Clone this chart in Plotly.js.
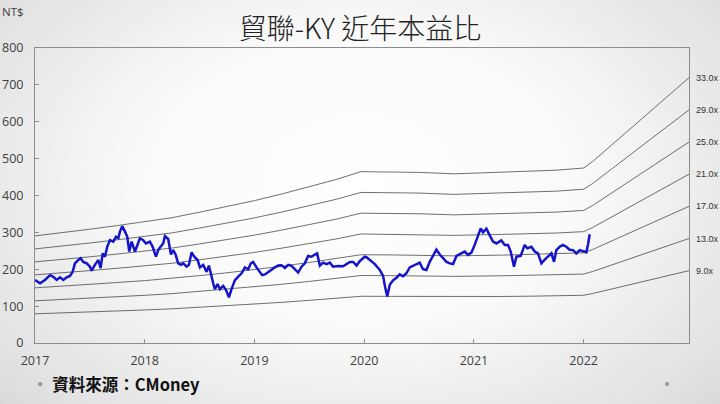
<!DOCTYPE html>
<html><head><meta charset="utf-8">
<script src="https://cdn.plot.ly/plotly-3.0.1.min.js"></script>
<style>
html,body{margin:0;padding:0;width:720px;height:404px;overflow:hidden;}
body{background:radial-gradient(ellipse 75% 90% at 50% 45%, #ffffff 0%, #fafafa 40%, #e2e2e2 80%, #d2d2d2 100%);}
#chart{width:720px;height:404px;}
</style></head>
<body><div id="chart"></div>
<script>
// Price (NT$) by decimal year
const priceYears = [2017.000,2017.046,2017.091,2017.137,2017.164,2017.198,2017.228,2017.258,2017.289,2017.319,2017.343,2017.364,2017.394,2017.416,2017.440,2017.471,2017.501,2017.516,2017.546,2017.577,2017.598,2017.617,2017.638,2017.658,2017.683,2017.713,2017.738,2017.759,2017.774,2017.795,2017.820,2017.841,2017.859,2017.881,2017.911,2017.932,2017.956,2017.986,2018.011,2018.047,2018.072,2018.102,2018.123,2018.144,2018.168,2018.184,2018.214,2018.239,2018.260,2018.281,2018.305,2018.330,2018.351,2018.382,2018.403,2018.427,2018.451,2018.482,2018.503,2018.533,2018.564,2018.585,2018.603,2018.624,2018.639,2018.664,2018.685,2018.715,2018.740,2018.767,2018.791,2018.821,2018.852,2018.883,2018.913,2018.943,2018.967,2018.988,2019.019,2019.049,2019.070,2019.095,2019.125,2019.156,2019.186,2019.216,2019.247,2019.277,2019.307,2019.338,2019.368,2019.398,2019.429,2019.459,2019.489,2019.520,2019.550,2019.571,2019.596,2019.626,2019.657,2019.687,2019.717,2019.762,2019.808,2019.839,2019.869,2019.899,2019.930,2019.960,2019.990,2020.005,2020.024,2020.051,2020.097,2020.142,2020.172,2020.192,2020.210,2020.233,2020.263,2020.294,2020.324,2020.354,2020.385,2020.415,2020.445,2020.476,2020.506,2020.536,2020.567,2020.597,2020.627,2020.658,2020.689,2020.716,2020.750,2020.780,2020.810,2020.841,2020.886,2020.916,2020.946,2020.977,2021.007,2021.037,2021.062,2021.083,2021.114,2021.144,2021.174,2021.205,2021.250,2021.281,2021.311,2021.335,2021.365,2021.387,2021.426,2021.463,2021.487,2021.524,2021.554,2021.584,2021.615,2021.645,2021.675,2021.706,2021.730,2021.751,2021.781,2021.811,2021.842,2021.872,2021.903,2021.933,2021.964,2021.994,2022.024,2022.040,2022.055];
const price = [171,162,171,184,180,171,178,171,178,182,193,216,225,230,220,216,207,196,212,225,203,243,234,261,279,275,288,284,302,317,302,288,248,275,248,266,284,279,270,275,261,234,252,261,270,290,282,240,252,240,216,212,216,207,212,246,234,225,205,212,193,210,184,162,146,160,146,155,144,124,146,170,180,189,205,200,216,220,205,194,184,186,193,198,205,210,211,203,212,209,200,191,207,216,236,234,240,243,210,218,214,218,207,209,208,214,220,220,210,222,230,234,232,226,214,198,182,150,126,158,170,177,186,181,189,205,210,214,218,200,198,220,238,253,240,230,220,216,214,236,243,248,239,245,266,290,311,300,310,292,275,270,278,266,266,248,207,234,236,266,257,261,248,243,216,226,234,243,220,252,261,266,261,253,252,243,252,248,246,268,295];

// Trailing EPS used for the P/E bands
const epsYears = [2017.0,2017.25,2017.5,2017.75,2018.0,2018.25,2018.5,2018.75,2019.0,2019.25,2019.5,2019.75,2019.97,2020.25,2020.5,2020.82,2021.25,2021.5,2021.75,2022.0,2022.08,2022.96];
const eps = [8.80,9.05,9.35,9.65,9.95,10.3,10.75,11.2,11.7,12.25,12.85,13.45,14.08,14.05,14.02,13.9,14.02,14.1,14.2,14.38,14.9,21.8];
const multiples = [9,13,17,21,25,29,33];
const yearTicks = [2017,2018,2019,2020,2021,2022];
const yTicks = [0,100,200,300,400,500,600,700,800];

const traces = [];
multiples.forEach(m => {
  traces.push({x: epsYears, y: eps.map(e => e*m), mode:'lines', type:'scatter',
    line:{color:'#4a4a4a', width:0.8}, hoverinfo:'skip', showlegend:false});
});
traces.push({x: priceYears, y: price, mode:'lines', type:'scatter',
  line:{color:'#1414c8', width:2.5}, showlegend:false});

const lastEps = eps[eps.length-1];
const annotations = multiples.map(m => ({
  xref:'paper', x:1, xanchor:'left', xshift:5, yref:'y', y: lastEps*m, yanchor:'middle',
  text: m.toFixed(1)+'x', showarrow:false, font:{family:'Liberation Sans, Arial', size:9, color:'#333'}
}));
annotations.push({xref:'paper', yref:'paper', x:-0.053, y:1.125, xanchor:'left', yanchor:'middle',
  text:'NT$', showarrow:false, font:{family:'Open Sans, Noto Sans', size:11.5, color:'#404040'}});
annotations.push({xref:'paper', yref:'paper', x:-0.008, y:-0.138, xanchor:'left', yanchor:'middle',
  text:'<span style="color:#999">•</span> 資料來源：CMoney', showarrow:false,
  font:{family:'Noto Sans CJK TC', size:16.5, color:'#111', weight:700}});
annotations.push({xref:'paper', yref:'paper', x:0.966, y:-0.138, xanchor:'center', yanchor:'middle',
  text:'•', showarrow:false, font:{family:'Noto Sans', size:16, color:'#999'}});

const layout = {
  width:720, height:404,
  margin:{l:35, r:31, t:48, b:61},
  paper_bgcolor:'rgba(0,0,0,0)', plot_bgcolor:'rgba(0,0,0,0)',
  title:{text:'貿聯-KY 近年本益比', x:0.5, xanchor:'center', y:0.928, yanchor:'middle',
    font:{family:'Noto Sans CJK TC', size:28, color:'#222', weight:300}},
  xaxis:{range:[2017, 2022.96], tickvals:yearTicks, ticktext:yearTicks.map(String),
    showgrid:false, zeroline:false, showline:true, linecolor:'#8c8c8c', linewidth:1, mirror:true,
    ticks:'inside', ticklen:4, tickcolor:'#8c8c8c', ticklabelstandoff:6,
    tickfont:{family:'Open Sans, Noto Sans', size:12.5, color:'#404040'}},
  yaxis:{range:[0,800], tickvals:yTicks, showgrid:false, zeroline:false, showline:true,
    linecolor:'#8c8c8c', linewidth:1, mirror:true, ticks:'inside', ticklen:4, tickcolor:'#8c8c8c',
    ticklabelstandoff:8, tickfont:{family:'Open Sans, Noto Sans', size:12.5, color:'#404040'}},
  annotations: annotations
};
Plotly.newPlot('chart', traces, layout, {displayModeBar:false, staticPlot:true});
</script>
</body></html>
